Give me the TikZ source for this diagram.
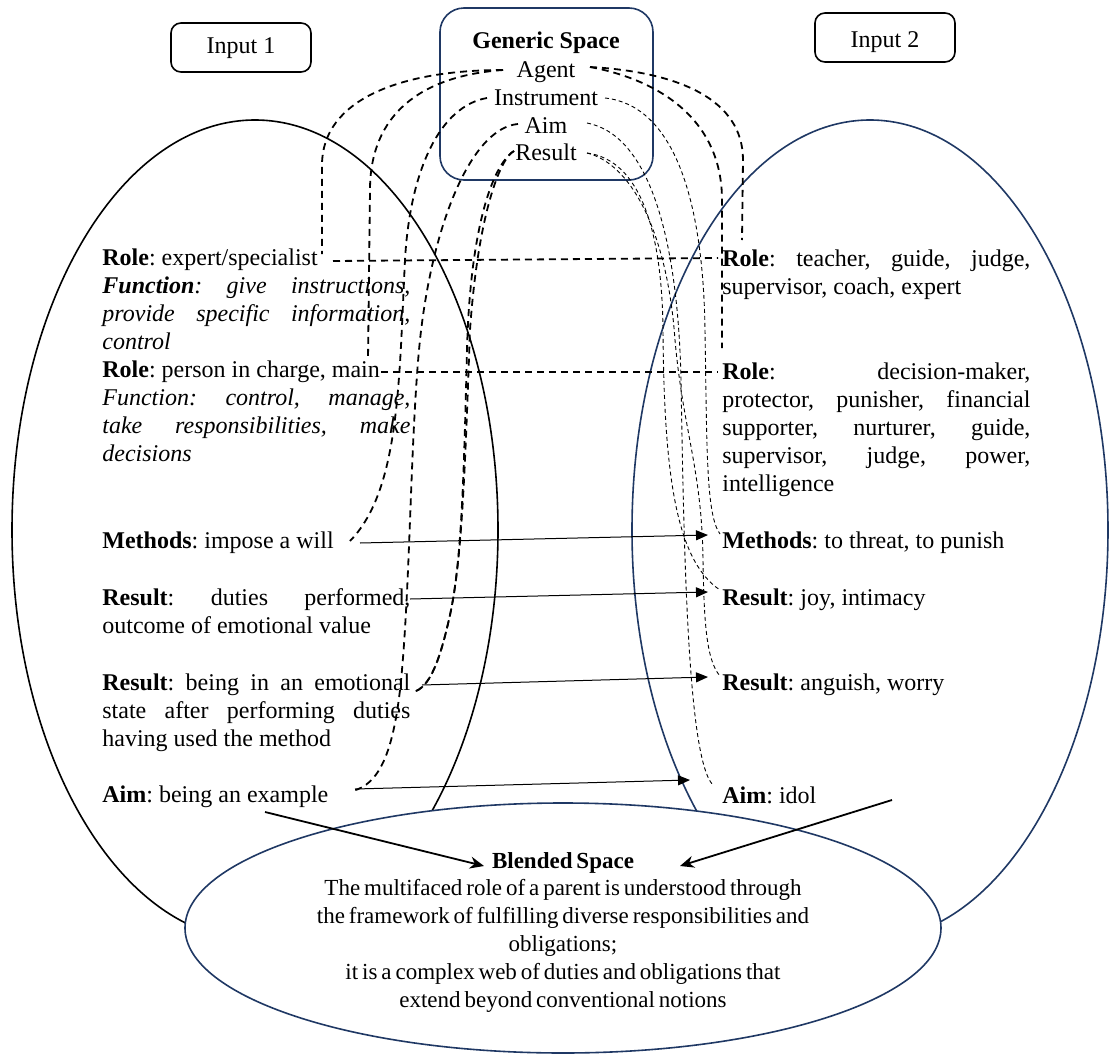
\documentclass[tikz,border=0pt]{standalone}
\usepackage{fontspec}
\setmainfont{Liberation Serif}
\usetikzlibrary{arrows.meta,shapes.geometric}
\definecolor{navy}{RGB}{31,56,100}
\hyphenpenalty=10000
\exhyphenpenalty=10000
\tolerance=9999
\frenchspacing

\begin{document}
\begin{tikzpicture}[x=0.5pt,y=-0.5pt,
  txt/.style={inner sep=0pt, font=\fontsize{12}{14}\selectfont},
  para/.style={txt, text width=154pt, align=justify, anchor=base west},
  word/.style={txt, anchor=base},
  tagbox/.style={draw, line width=0.8pt, rounded corners=5pt},
  region/.style={draw, ellipse, inner sep=0pt, line width=0.8pt},
  thickdash/.style={line width=0.9pt, dash pattern=on 3.5pt off 2.5pt},
  thindash/.style={line width=0.45pt, dash pattern=on 2pt off 1.5pt},
  link/.style={line width=0.5pt, -{Triangle[length=6pt,width=5pt]}},
  blendarrow/.style={line width=0.9pt, -{Stealth[length=7pt,width=6pt]}},
]
\useasboundingbox (0,0) rectangle (1110,1055);

% input spaces
\node[region, minimum width=243pt, minimum height=410pt] (inone) at (255,530) {};
\node[region, draw=navy, minimum width=238pt, minimum height=410pt] (intwo) at (870,530) {};
\node[region, draw=navy, fill=white, minimum width=378pt, minimum height=125pt] (blend) at (563,928) {};

% header boxes
\draw[tagbox] (171,23) rectangle (311,72);
\node[word] (inonelbl) at (241,53) {Input 1};
\draw[tagbox] (815,13) rectangle (955,62);
\node[word] (intwolbl) at (885,47) {Input 2};
\draw[tagbox, draw=navy, rounded corners=12pt] (440,8) rectangle (653,180);
\node[word, font=\fontsize{12}{14}\selectfont\bfseries] (generic) at (546,48) {Generic Space};
\node[word] (gagent) at (546,77) {Agent};
\node[word] (ginstr) at (546,105) {Instrument};
\node[word] (gaim) at (546,133) {Aim};
\node[word] (gresult) at (546,160) {Result};

% input 1 texts
\node[para] (lroles) at (102,265) {\textbf{Role}: expert/specialist\par
\textbf{\textit{Function}}\textit{: give instructions,\linebreak provide specific information,\linebreak control}\par
\textbf{Role}: person in charge, main\par
\textit{Function: control, manage,\linebreak take responsibilities, make\linebreak decisions}};
\node[para] (lmeth) at (102,548) {\textbf{Methods}: impose a will};
\node[para] (lresa) at (102,605) {\textbf{Result}: duties performed,\linebreak outcome of emotional value};
\node[para] (lresb) at (102,690) {\textbf{Result}: being in an emotional\linebreak state after performing duties\linebreak having used the method};
\node[para] (laim) at (102,802) {\textbf{Aim}: being an example};

% input 2 texts
\node[para] (rrolea) at (722,266) {\textbf{Role}: teacher, guide, judge,\linebreak supervisor, coach, expert};
\node[para] (rroleb) at (722,379) {\textbf{Role}: decision-maker,\linebreak protector, punisher, financial\linebreak supporter, nurturer, guide,\linebreak supervisor, judge, power,\linebreak intelligence};
\node[para] (rmeth) at (722,548) {\textbf{Methods}: to threat, to punish};
\node[para] (rresa) at (722,605) {\textbf{Result}: joy, intimacy};
\node[para] (rresb) at (722,690) {\textbf{Result}: anguish, worry};
\node[para] (raim) at (722,803) {\textbf{Aim}: idol};

% blended space text
\node[txt, font=\fontsize{11.5}{13.9}\selectfont, text width=300pt, align=center, anchor=base] (blendtxt) at (563,868)
  {\spaceskip=0.17em\relax
   \textbf{Blended Space}\\
   The multifaced role of a parent is understood through\\
   the framework of fulfilling diverse responsibilities and\\
   obligations;\\
   it is a complex web of duties and obligations that\\
   extend beyond conventional notions};

% connector end points
\coordinate (agentL) at (503,70);
\coordinate (agentR) at (590,67);
\coordinate (instrL) at (487,98);
\coordinate (instrR) at (605,98);
\coordinate (aimL) at (518,124);
\coordinate (aimR) at (587,123);
\coordinate (resL) at (514,151);
\coordinate (resR) at (587,153);

\coordinate (lRoleAtop) at (322,254);
\coordinate (lRoleBtop) at (368,360);
\coordinate (lRoleAend) at (333,261);
\coordinate (lRoleBend) at (381,372);
\coordinate (lMethEnd) at (350,541);
\coordinate (lResEnd) at (413,692);
\coordinate (lAimEnd) at (352,791);

\coordinate (rRoleAtop) at (742,240);
\coordinate (rRoleBtop) at (722,348);
\coordinate (rRoleAstart) at (718,258);
\coordinate (rRoleBstart) at (718,372);
\coordinate (rMethEnd) at (720,534);
\coordinate (rJoyEnd) at (720,590);
\coordinate (rAngEnd) at (720,676);
\coordinate (rAimEnd) at (713,785);

% agent to roles
\draw[thickdash] (agentL) .. controls (400,70) and (322,100) .. (322,165) -- (lRoleAtop);
\draw[thickdash] (agentL) .. controls (420,76) and (370,115) .. (370,190) -- (lRoleBtop);
\draw[thickdash] (agentR) .. controls (680,72) and (743,100) .. (743,160) -- (rRoleAtop);
\draw[thickdash] (agentR) .. controls (660,80) and (722,120) .. (722,200) -- (rRoleBtop);
\draw[thickdash] (lRoleAend) -- (rRoleAstart);
\draw[thickdash] (lRoleBend) -- (rRoleBstart);

% instrument, aim and result into input 1
\draw[thickdash] (instrL) .. controls (440,106) and (410,170) .. (405,260) .. controls (399,380) and (400,490) .. (lMethEnd);
\draw[thickdash] (aimL) .. controls (470,128) and (430,230) .. (419,350) .. controls (410,450) and (410,600) .. (400,690) .. controls (393,750) and (380,785) .. (lAimEnd);
\draw[thickdash] (resL) .. controls (492,165) and (470,230) .. (467,350) .. controls (464,470) and (462,560) .. (450,615) .. controls (440,660) and (430,688) .. (lResEnd);
\draw[thickdash] (resL) .. controls (500,158) and (478,215) .. (470,330) .. controls (465,470) and (462,560) .. (450,615) .. controls (440,660) and (430,688) .. (lResEnd);

% instrument, aim and result into input 2
\draw[thindash] (instrR) .. controls (670,105) and (703,190) .. (705,330) .. controls (707,450) and (706,515) .. (rMethEnd);
\draw[thindash] (aimR) .. controls (650,135) and (678,240) .. (681,380) .. controls (684,560) and (688,760) .. (rAimEnd);
\draw[thindash] (resR) .. controls (640,160) and (662,230) .. (663,330) .. controls (664,470) and (675,560) .. (rJoyEnd);
\draw[thindash] (resR) .. controls (635,165) and (668,240) .. (675,340) .. controls (683,430) and (702,470) .. (703,560) .. controls (704,620) and (706,660) .. (rAngEnd);

% cross-space mappings
\coordinate (mA) at (360,543);  \coordinate (mB) at (708,535);
\coordinate (jA) at (410,599);  \coordinate (jB) at (708,592);
\coordinate (gA) at (422,685);  \coordinate (gB) at (708,677);
\coordinate (aA) at (355,789);  \coordinate (aB) at (690,780);
\draw[link] (mA) -- (mB);
\draw[link] (jA) -- (jB);
\draw[link] (gA) -- (gB);
\draw[link] (aA) -- (aB);

% projections into the blend
\coordinate (bl) at (265,812);  \coordinate (blT) at (484,866);
\coordinate (br) at (892,800);  \coordinate (brT) at (680,866);
\draw[blendarrow] (bl) -- (blT);
\draw[blendarrow] (br) -- (brT);
\end{tikzpicture}
\end{document}
